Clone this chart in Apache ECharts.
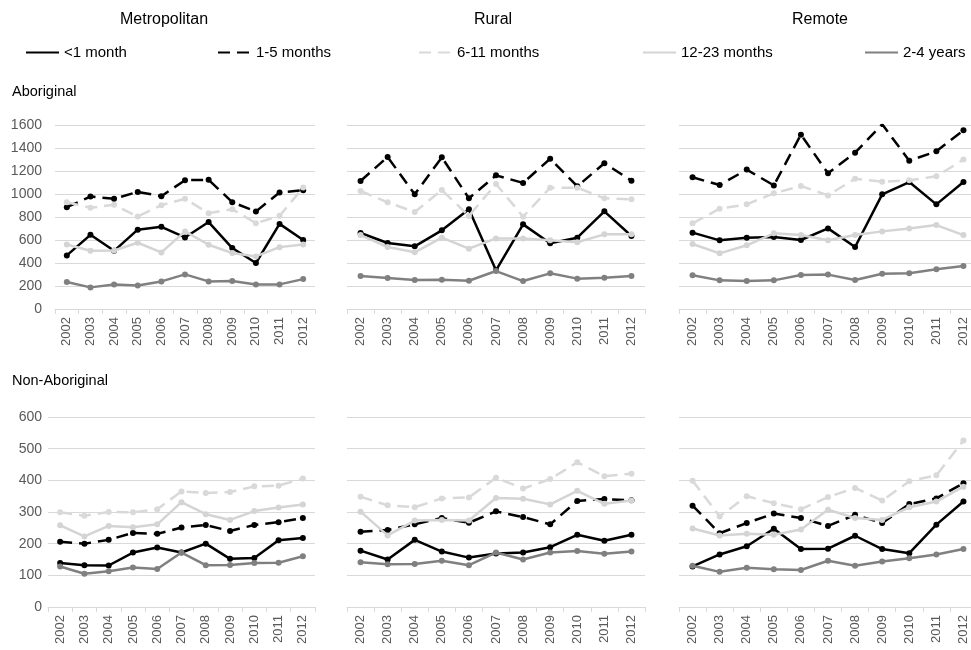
<!DOCTYPE html>
<html>
<head>
<meta charset="utf-8">
<script src="https://cdn.jsdelivr.net/npm/echarts@6/dist/echarts.min.js"></script>
<style>html,body{margin:0;padding:0;background:#fff}#c{width:971px;height:650px}</style>
</head>
<body>
<div id="c"></div>
<script>
// ---------- DATA ----------
const years = ['2002','2003','2004','2005','2006','2007','2008','2009','2010','2011','2012'];
const seriesNames = ['<1 month','1-5 months','6-11 months','12-23 months','2-4 years'];
const columnTitles = ['Metropolitan','Rural','Remote'];
const rowTitles = ['Aboriginal','Non-Aboriginal'];
const topTicks = [0,200,400,600,800,1000,1200,1400,1600];
const bottomTicks = [0,100,200,300,400,500,600];

// Aboriginal - Metropolitan
const abMetroLt1   = [466, 645, 506, 690, 715, 622, 756, 530, 400, 740, 600];
const abMetro1to5  = [885, 978, 958, 1018, 981, 1120, 1123, 929, 848, 1013, 1033];
const abMetro6to11 = [929, 880, 906, 804, 903, 958, 833, 868, 746, 810, 1056];
const abMetro12to23= [561, 506, 509, 576, 492, 675, 559, 486, 457, 538, 561];
const abMetro2to4  = [234, 188, 214, 205, 240, 301, 240, 243, 214, 214, 260];
// Aboriginal - Rural
const abRuralLt1   = [661, 574, 545, 684, 867, 336, 736, 571, 620, 849, 635];
const abRural1to5  = [1113, 1322, 997, 1319, 962, 1162, 1096, 1307, 1067, 1267, 1116];
const abRural6to11 = [1026, 928, 843, 1035, 809, 1087, 803, 1055, 1055, 962, 954];
const abRural12to23= [643, 539, 493, 620, 525, 614, 614, 597, 580, 649, 649];
const abRural2to4  = [287, 270, 252, 255, 246, 330, 243, 310, 264, 272, 287];
// Aboriginal - Remote
const abRemoteLt1   = [664, 597, 620, 626, 600, 701, 539, 997, 1104, 910, 1104];
const abRemote1to5  = [1145, 1078, 1212, 1075, 1516, 1180, 1359, 1606, 1290, 1371, 1554];
const abRemote6to11 = [745, 872, 910, 1006, 1070, 988, 1133, 1107, 1119, 1154, 1299];
const abRemote12to23= [565, 484, 554, 658, 643, 597, 643, 675, 701, 730, 643];
const abRemote2to4  = [293, 249, 243, 249, 296, 299, 252, 307, 310, 345, 374];
// Non-Aboriginal - Metropolitan
const naMetroLt1   = [139, 132, 131, 172, 188, 172, 200, 152, 155, 211, 218];
const naMetro1to5  = [206, 200, 212, 234, 231, 251, 259, 240, 259, 268, 281];
const naMetro6to11 = [299, 288, 300, 299, 309, 365, 360, 363, 381, 383, 406];
const naMetro12to23= [258, 223, 256, 252, 261, 331, 293, 275, 303, 314, 324];
const naMetro2to4  = [128, 105, 113, 125, 120, 172, 132, 133, 139, 140, 160];
// Non-Aboriginal - Rural
const naRuralLt1   = [178, 150, 212, 175, 156, 169, 172, 189, 228, 209, 228];
const naRural1to5  = [238, 243, 261, 281, 266, 302, 284, 261, 335, 341, 337];
const naRural6to11 = [348, 321, 315, 343, 346, 408, 374, 404, 457, 413, 421];
const naRural12to23= [301, 226, 273, 275, 273, 344, 342, 324, 367, 326, 336];
const naRural2to4  = [141, 135, 136, 146, 132, 172, 150, 172, 177, 168, 175];
// Non-Aboriginal - Remote
const naRemoteLt1   = [128, 166, 192, 247, 183, 184, 225, 183, 170, 260, 333];
const naRemote1to5  = [320, 233, 265, 295, 281, 256, 291, 265, 325, 343, 391];
const naRemote6to11 = [399, 286, 350, 328, 309, 347, 376, 336, 397, 416, 526];
const naRemote12to23= [248, 226, 231, 228, 245, 307, 281, 275, 315, 333, 380];
const naRemote2to4  = [130, 111, 124, 119, 117, 146, 130, 144, 154, 166, 183];

// ---------- BUILD ----------
const panels = [
  [abMetroLt1, abMetro1to5, abMetro6to11, abMetro12to23, abMetro2to4],
  [abRuralLt1, abRural1to5, abRural6to11, abRural12to23, abRural2to4],
  [abRemoteLt1, abRemote1to5, abRemote6to11, abRemote12to23, abRemote2to4],
  [naMetroLt1, naMetro1to5, naMetro6to11, naMetro12to23, naMetro2to4],
  [naRuralLt1, naRural1to5, naRural6to11, naRural12to23, naRural2to4],
  [naRemoteLt1, naRemote1to5, naRemote6to11, naRemote12to23, naRemote2to4]
];
const FONT = '"Liberation Sans", Arial, sans-serif';
const styles = [
  {color:'#000000', type:'solid', width:2.5},
  {color:'#000000', type:[12,7], width:2.5},
  {color:'#d9d9d9', type:[12,7], width:2.5},
  {color:'#d4d4d4', type:'solid', width:2.5},
  {color:'#808080', type:'solid', width:2.5}
];
const grids = [
  {left:55,  top:125, width:260, height:184},
  {left:347, top:125, width:298, height:184},
  {left:679, top:125, width:298, height:184},
  {left:48,  top:417, width:267, height:190},
  {left:347, top:417, width:298, height:190},
  {left:679, top:417, width:298, height:190}
].map(g => Object.assign({outerBoundsMode:'none', containLabel:false}, g));

const xAxes = grids.map((g,i) => ({
  type:'category', gridIndex:i, data:years, boundaryGap:true,
  axisLine:{show:true, lineStyle:{color:'#d9d9d9', width:1}},
  axisTick:{show:true, length:5, alignWithLabel:false, lineStyle:{color:'#d9d9d9'}},
  axisLabel:{interval:0, rotate:90, margin:8, fontSize:13, color:'#595959', fontFamily:FONT}
}));
const yAxes = grids.map((g,i) => {
  const top = i < 3;
  const ticks = top ? topTicks : bottomTicks;
  return {
    type:'value', gridIndex:i, min:ticks[0], max:ticks[ticks.length-1],
    interval: ticks[1]-ticks[0],
    axisLine:{show:false}, axisTick:{show:false},
    splitLine:{show:true, lineStyle:{color:'#d9d9d9', width:1}},
    axisLabel:{show: i===0 || i===3, margin: top ? 13 : 6, fontSize:14, color:'#595959', fontFamily:FONT,
      formatter: v => String(v)}
  };
});
const series = [];
panels.forEach((p, gi) => {
  p.forEach((vals, si) => {
    const s = styles[si];
    series.push({
      type:'line', name:seriesNames[si], xAxisIndex:gi, yAxisIndex:gi, data:vals,
      symbol:'circle', symbolSize:6, showSymbol:true,
      lineStyle:{color:s.color, type:s.type, width:s.width},
      itemStyle:{color:s.color},
      emphasis:{disabled:true}, animation:false, z: 2 + si
    });
  });
});
const legendLefts = [20, 212, 413, 637, 859];
const legends = seriesNames.map((n, i) => ({
  data:[n], left:legendLefts[i], top:40, itemWidth:33, itemHeight:14, itemGap:0,
  selectedMode:false,
  itemStyle:{opacity:0},
  textStyle:{fontSize:15, color:'#000', fontFamily:FONT}
}));
const graphics = [
  {type:'text', x:164, y:20, style:{text:columnTitles[0], font:'16px '+FONT, fill:'#000', align:'center', verticalAlign:'middle'}},
  {type:'text', x:493, y:20, style:{text:columnTitles[1], font:'16px '+FONT, fill:'#000', align:'center', verticalAlign:'middle'}},
  {type:'text', x:820, y:20, style:{text:columnTitles[2], font:'16px '+FONT, fill:'#000', align:'center', verticalAlign:'middle'}},
  {type:'text', x:12, y:92, style:{text:rowTitles[0], font:'14.5px '+FONT, fill:'#000', align:'left', verticalAlign:'middle'}},
  {type:'text', x:12, y:381, style:{text:rowTitles[1], font:'14.5px '+FONT, fill:'#000', align:'left', verticalAlign:'middle'}}
];

const chart = echarts.init(document.getElementById('c'), null, {renderer:'canvas'});
chart.setOption({
  animation:false,
  backgroundColor:'#ffffff',
  textStyle:{fontFamily:FONT},
  grid:grids, xAxis:xAxes, yAxis:yAxes, series:series,
  legend:legends, graphic:graphics
});
</script>
</body>
</html>
